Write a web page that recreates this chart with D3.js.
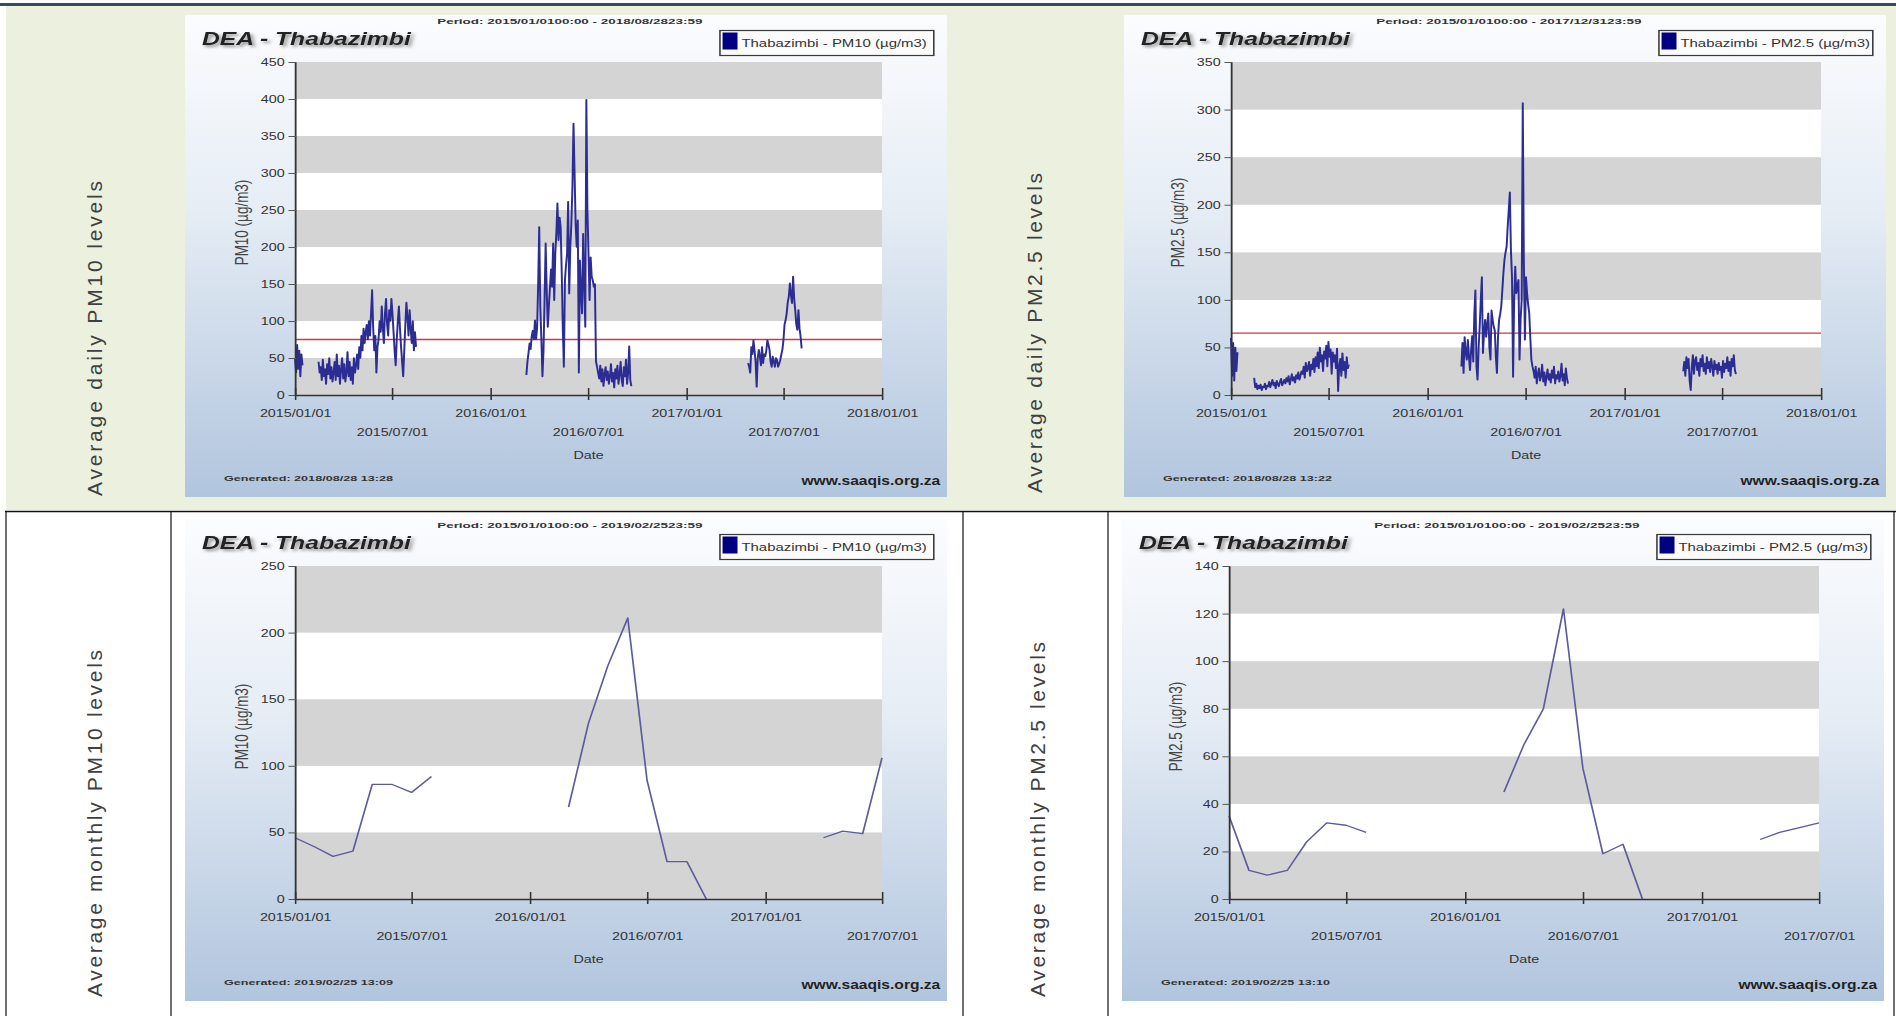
<!DOCTYPE html>
<html>
<head>
<meta charset="utf-8">
<script src="https://cdn.jsdelivr.net/npm/d3@7"></script>
<style>
body { margin: 0; background: #fff; }
svg { display: block; }
text { font-family: "Liberation Sans", Arial, sans-serif; }
</style>
</head>
<body>
<svg id="page" width="1896" height="1016"></svg>
<script>
// ---- data ----
var dailyTicks = ["2015-01-01", "2015-07-01", "2016-01-01", "2016-07-01", "2017-01-01", "2017-07-01", "2018-01-01"];
var monthlyTicks = ["2015-01-01", "2015-07-01", "2016-01-01", "2016-07-01", "2017-01-01", "2017-07-01"];

var pm10DailyTicksY = [0, 50, 100, 150, 200, 250, 300, 350, 400, 450];
var pm25DailyTicksY = [0, 50, 100, 150, 200, 250, 300, 350];
var pm10MonthlyTicksY = [0, 50, 100, 150, 200, 250];
var pm25MonthlyTicksY = [0, 20, 40, 60, 80, 100, 120, 140];

// daily values, one every 2 days from each start date
var pm10DailyStarts = ["2015-01-01", "2015-02-14", "2016-03-08", "2017-04-26"];
var pm10DailyA = [50, 30, 68, 35, 60, 25, 55, 40];
var pm10DailyB = [45, 30, 38, 20, 48, 25, 35, 15, 42, 28, 50, 22, 38, 18,
  30, 45, 20, 55, 25, 40, 15, 35, 50, 22, 42, 18, 30, 58, 25, 45, 20, 38, 15, 50, 30,
  40, 55, 35, 65, 50, 80, 60, 90, 70, 85, 95, 75, 100, 80, 110, 142,
  90, 60, 80, 30, 65,
  75, 100, 85, 120, 90, 70, 110, 130, 95, 80, 115, 100, 130,
  110, 85, 60, 40, 75, 100, 120, 90, 65, 45, 25, 60, 95, 125, 105, 80, 115,
  90, 70, 100, 60, 85, 65];
var pm10DailyC = [27, 45, 57, 70, 62, 80, 87, 75, 101, 75, 90, 150, 227, 120, 75, 25, 60, 130, 205, 140,
  92, 120, 145, 170, 146, 205, 128, 191, 220, 259, 209, 240, 227, 167, 90, 38, 155, 175, 191, 261,
  137, 200, 232, 281, 367, 300, 230, 200, 236, 30, 182, 140, 110, 218, 150, 92, 399, 250, 191, 128,
  186, 160, 155, 146, 150, 45, 38,
  30, 22, 40, 18, 35, 12, 28, 38, 20, 32, 15, 25, 42, 18, 30, 10, 35, 22, 40, 15, 28, 45, 20, 12,
  38, 25, 48, 15, 30, 66, 20, 12];
var pm10DailyD = [43, 38, 30, 65, 55, 74, 60, 45, 11, 50, 61, 52, 40, 65, 43, 55, 52, 60, 74, 68,
  61, 45, 38, 52, 45, 38, 50, 47, 38, 42, 47, 55, 61, 74, 95, 101, 110, 125, 133, 151,
  135, 124, 160, 130, 115, 95, 88, 115, 90, 79, 63];

var pm25DailyStarts = ["2015-01-01", "2015-02-13", "2016-03-04", "2017-04-20"];
var pm25DailyA = [60, 20, 55, 15, 50, 25, 45];
var pm25DailyB = [18, 8, 12, 6, 10, 7, 11, 5, 9, 8, 12, 6, 10,
  9, 14, 8, 12, 16, 10, 13, 7, 15, 11, 9, 14, 17, 10, 13, 16,
  12, 18, 14, 20, 11, 16, 22, 15, 19, 13, 21, 17, 24, 16, 20, 25,
  22, 30, 18, 34, 25, 28, 35, 20, 32, 27, 38, 24,
  40, 30, 45, 28, 50, 35, 42, 25, 46,
  38, 52, 30, 56, 40, 48, 22, 45, 35,
  42, 28, 49, 4, 30, 38, 20, 44, 26, 35, 18, 40, 28, 32];
var pm25DailyC = [30, 55, 23, 61, 45, 37, 58, 40, 26, 47, 62, 35, 85, 110, 30, 16, 50, 72, 100, 124,
  44, 65, 79, 61, 75, 86, 50, 37, 89, 79, 72, 68, 40, 23, 61, 79, 85, 93, 110, 128,
  142, 150, 156, 177, 195, 213, 152, 124, 19, 100, 135, 107, 115, 121, 37, 80, 100, 307, 140, 58,
  124, 107, 95, 86, 60, 37, 30,
  25, 18, 30, 12, 22, 28, 15, 20, 32, 14, 24, 10, 19, 27, 16, 22, 13, 26, 18, 30,
  12, 21, 17, 25, 14, 20, 33, 15, 22, 10, 28, 18, 12];
var pm25DailyD = [25, 35, 20, 40, 28, 38, 15, 5, 30, 42, 22, 36, 40, 26, 34, 20, 38, 30, 42, 25,
  33, 22, 40, 28, 35, 24, 38, 30, 20, 36, 27, 32, 22, 34, 26, 30, 18, 36, 24, 33,
  28, 40, 25, 35, 20, 38, 30, 42, 26, 22];

// monthly values, one per month from each start month
var monthlyStarts = ["2015-01-01", "2016-03-01", "2017-04-01"];
var pm10MonthlyA = [46, 39, 32, 36, 86, 86, 80, 92];
var pm10MonthlyB = [69, 132, 175, 211, 89, 28, 28, 0];
var pm10MonthlyC = [46, 51, 49, 106];
var pm25MonthlyA = [35, 12, 10, 12, 24, 32, 31, 28];
var pm25MonthlyB = [45, 65, 80, 122, 55, 19, 23, 0];
var pm25MonthlyC = [25, 28, 30, 32];

var pm10Limit = 75;
var pm25Limit = 65;

// ---- drawing ----
var SX = 1.3;              // chart bitmaps are stretched sideways in the document
var parse = d3.utcParse("%Y-%m-%d");
var fmt = d3.utcFormat("%Y/%m/%d");

var svg = d3.select("#page");
var defs = svg.append("defs");
var grad = defs.append("linearGradient").attr("id", "bg")
    .attr("x1", 0).attr("y1", 0).attr("x2", 0).attr("y2", 1);
grad.append("stop").attr("offset", 0).attr("stop-color", "#fbfcfe");
grad.append("stop").attr("offset", 0.4).attr("stop-color", "#e6edf5");
grad.append("stop").attr("offset", 1).attr("stop-color", "#b1c5de");
defs.append("filter").attr("id", "shadow")
    .append("feDropShadow").attr("dx", 2).attr("dy", 2).attr("stdDeviation", 1.5)
    .attr("flood-color", "#777").attr("flood-opacity", 0.85);

function dailySeries(starts, arrays) {
    return arrays.map(function(vals, k) {
        var s = parse(starts[k]);
        return vals.map((v, i) => ({ date: d3.utcDay.offset(s, 2 * i), v: v }));
    });
}

function monthlySeries(starts, arrays) {
    return arrays.map(function(vals, k) {
        var s = parse(starts[k]);
        return vals.map((v, i) => ({ date: d3.utcMonth.offset(s, i), v: v }));
    });
}

// table background
svg.append("rect").attr("x", 0).attr("y", 3).attr("width", 1896).attr("height", 3).attr("fill", "#3c4b5c");
svg.append("rect").attr("x", 6).attr("y", 6).attr("width", 1890).attr("height", 504).attr("fill", "#ebf1de");
svg.append("line").attr("x1", 5).attr("x2", 1896).attr("y1", 511.5).attr("y2", 511.5)
    .attr("stroke", "#111").attr("stroke-width", 1.5);
[6, 171, 963, 1108, 1894].forEach(function(x) {
    svg.append("line").attr("x1", x).attr("x2", x).attr("y1", 511).attr("y2", 1016)
        .attr("stroke", "#111").attr("stroke-width", 1.2);
});

function rowLabel(text, bx, by, len) {
    svg.append("text")
        .attr("transform", "translate(" + bx + "," + by + ") rotate(-90)")
        .attr("font-size", 21)
        .attr("fill", "#404040")
        .attr("textLength", len)
        .attr("lengthAdjust", "spacing")
        .text(text);
}
rowLabel("Average daily PM10 levels", 102, 496, 315);
rowLabel("Average monthly PM10 levels", 102, 997, 347);
rowLabel("Average daily PM2.5 levels", 1042, 493, 320);
rowLabel("Average monthly PM2.5 levels", 1045, 997, 355);

function drawPanel(o) {
    var g = svg.append("g").attr("transform", "translate(" + o.x0 + "," + o.y0 + ") scale(" + SX + ",1)");
    var W = 762 / SX, H = 482;
    var pl = o.plotL / SX, pr = 697 / SX, pt = 47, pb = 380;

    g.append("rect").attr("width", W).attr("height", H).attr("fill", "url(#bg)");

    var x = d3.scaleUtc()
        .domain([parse(o.xTicks[0]), parse(o.xTicks[o.xTicks.length - 1])])
        .range([pl, pr]);
    var y = d3.scaleLinear()
        .domain([0, o.yTicks[o.yTicks.length - 1]])
        .range([pb, pt]);

    // alternating bands
    g.selectAll("rect.band")
        .data(d3.pairs(o.yTicks))
        .enter()
        .append("rect")
        .attr("class", "band")
        .attr("x", pl)
        .attr("width", pr - pl)
        .attr("y", d => y(d[1]))
        .attr("height", d => y(d[0]) - y(d[1]))
        .attr("fill", (d, i) => i % 2 ? "#ffffff" : "#d4d4d4");

    if (o.limit != null) {
        g.append("line")
            .attr("x1", pl).attr("x2", pr)
            .attr("y1", y(o.limit)).attr("y2", y(o.limit))
            .attr("stroke", "#cc3b3b").attr("stroke-width", 1.3);
    }

    var line = d3.line().x(d => x(d.date)).y(d => y(d.v));
    g.selectAll("path.series")
        .data(o.series)
        .enter()
        .append("path")
        .attr("class", "series")
        .attr("d", line)
        .attr("fill", "none")
        .attr("stroke", o.color)
        .attr("stroke-width", o.width)
        .attr("stroke-linejoin", "round");

    // y axis
    var ya = g.append("g")
        .attr("transform", "translate(" + pl + ",0)")
        .call(d3.axisLeft(y).tickValues(o.yTicks).tickSize(5).tickSizeOuter(0).tickPadding(3));
    ya.attr("font-family", null).attr("font-size", null);
    ya.select(".domain").attr("stroke", "#333").attr("stroke-width", 1.4);
    ya.selectAll(".tick line").attr("stroke", "#555").attr("x2", -5).attr("x1", 1);
    ya.selectAll(".tick text").attr("font-size", 11).attr("fill", "#333");

    // x axis
    var xa = g.append("g")
        .attr("transform", "translate(0," + pb + ")")
        .call(d3.axisBottom(x).tickValues(o.xTicks.map(parse)).tickFormat(fmt).tickSize(5).tickSizeOuter(0));
    xa.attr("font-family", null).attr("font-size", null);
    xa.select(".domain").attr("stroke", "#333").attr("stroke-width", 1.4);
    xa.selectAll(".tick line").attr("stroke", "#333").attr("stroke-width", 1.2).attr("y1", -7).attr("y2", 5);
    xa.selectAll(".tick text")
        .attr("font-size", 11).attr("fill", "#333")
        .attr("y", (d, i) => i % 2 ? 33 : 14);

    g.append("text")
        .attr("x", (pl + pr) / 2).attr("y", 444)
        .attr("text-anchor", "middle").attr("font-size", 11).attr("fill", "#333")
        .text("Date");

    g.append("text")
        .attr("transform", "translate(" + (pl - 41) + "," + ((pt + pb) / 2 - 6) + ") rotate(-90)")
        .attr("text-anchor", "middle").attr("dy", "0.35em")
        .attr("font-size", 13.5).attr("fill", "#444")
        .text(o.yLabel);

    // header
    g.append("text")
        .attr("x", 13).attr("y", 30)
        .attr("font-size", 19).attr("font-weight", "bold").attr("font-style", "italic")
        .attr("fill", "#222").attr("filter", "url(#shadow)")
        .text("DEA - Thabazimbi");

    g.append("text")
        .attr("x", 296).attr("y", 9.5)
        .attr("text-anchor", "middle").attr("font-size", 7.5).attr("font-weight", "bold")
        .attr("fill", "#333").attr("textLength", 204).attr("lengthAdjust", "spacingAndGlyphs")
        .text(o.period);

    // legend
    g.append("rect")
        .attr("x", 411.5).attr("y", 15.5).attr("width", 164.5).attr("height", 25)
        .attr("fill", "#fbfbfb").attr("stroke", "#3a3a3a").attr("stroke-width", 1.2);
    g.append("rect")
        .attr("x", 413.5).attr("y", 17.5).attr("width", 11.5).attr("height", 17)
        .attr("fill", "#000080");
    g.append("text")
        .attr("x", 428).attr("y", 32)
        .attr("font-size", 11.5).attr("fill", "#333")
        .text(o.legend);

    // footer
    g.append("text")
        .attr("x", 30).attr("y", 466)
        .attr("font-size", 7.5).attr("font-weight", "bold").attr("fill", "#333")
        .attr("textLength", 130).attr("lengthAdjust", "spacingAndGlyphs")
        .text(o.generated);
    g.append("text")
        .attr("x", 581).attr("y", 470)
        .attr("text-anchor", "end").attr("font-size", 12).attr("font-weight", "bold").attr("fill", "#222")
        .text("www.saaqis.org.za");
}

drawPanel({
    x0: 185, y0: 15, plotL: 110,
    xTicks: dailyTicks, yTicks: pm10DailyTicksY, limit: pm10Limit,
    series: dailySeries(pm10DailyStarts, [pm10DailyA, pm10DailyB, pm10DailyC, pm10DailyD]),
    color: "#2c2c95", width: 1.5,
    yLabel: "PM10 (µg/m3)", legend: "Thabazimbi - PM10 (µg/m3)",
    period: "Period: 2015/01/0100:00 - 2018/08/2823:59",
    generated: "Generated: 2018/08/28 13:28"
});
drawPanel({
    x0: 1124, y0: 15, plotL: 107,
    xTicks: dailyTicks, yTicks: pm25DailyTicksY, limit: pm25Limit,
    series: dailySeries(pm25DailyStarts, [pm25DailyA, pm25DailyB, pm25DailyC, pm25DailyD]),
    color: "#2c2c95", width: 1.5,
    yLabel: "PM2.5 (µg/m3)", legend: "Thabazimbi - PM2.5 (µg/m3)",
    period: "Period: 2015/01/0100:00 - 2017/12/3123:59",
    generated: "Generated: 2018/08/28 13:22"
});
drawPanel({
    x0: 185, y0: 519, plotL: 110,
    xTicks: monthlyTicks, yTicks: pm10MonthlyTicksY, limit: null,
    series: monthlySeries(monthlyStarts, [pm10MonthlyA, pm10MonthlyB, pm10MonthlyC]),
    color: "#5c5c9c", width: 1.3,
    yLabel: "PM10 (µg/m3)", legend: "Thabazimbi - PM10 (µg/m3)",
    period: "Period: 2015/01/0100:00 - 2019/02/2523:59",
    generated: "Generated: 2019/02/25 13:09"
});
drawPanel({
    x0: 1122, y0: 519, plotL: 107,
    xTicks: monthlyTicks, yTicks: pm25MonthlyTicksY, limit: null,
    series: monthlySeries(monthlyStarts, [pm25MonthlyA, pm25MonthlyB, pm25MonthlyC]),
    color: "#5c5c9c", width: 1.3,
    yLabel: "PM2.5 (µg/m3)", legend: "Thabazimbi - PM2.5 (µg/m3)",
    period: "Period: 2015/01/0100:00 - 2019/02/2523:59",
    generated: "Generated: 2019/02/25 13:10"
});
</script>
</body>
</html>
